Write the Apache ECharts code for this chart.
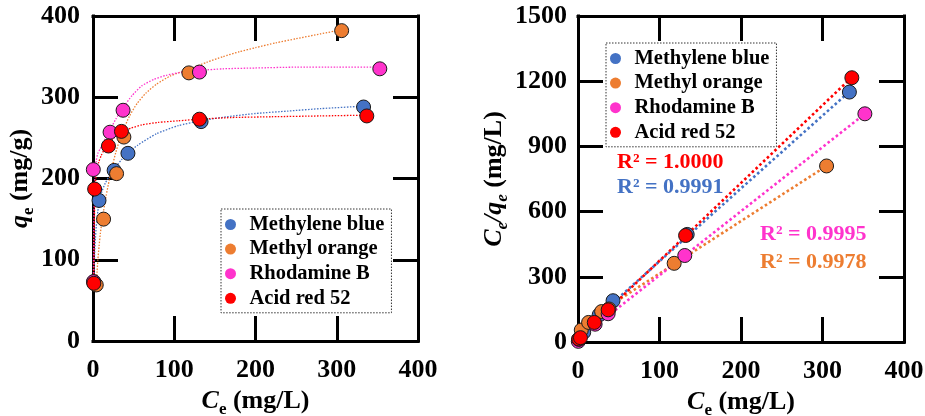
<!DOCTYPE html>
<html><head><meta charset="utf-8">
<script src="https://cdn.jsdelivr.net/npm/echarts@6/dist/echarts.min.js"></script>
<style>html,body{margin:0;padding:0;background:#fff}#c{width:925px;height:416px}</style>
</head><body><div id="c"></div>
<script>
// ---------- data ----------
const names = ['Methylene blue', 'Methyl orange', 'Rhodamine B', 'Acid red 52'];
const colors = ['#4472C4', '#ED7D31', '#FF33CC', '#FF0000'];

// Left panel: Ce (mg/L) vs qe (mg/g)
const ceMB = [1, 7.4, 26, 43, 133, 333];
const qeMB = [73, 173, 210, 231, 270, 288];
const ceMO = [4, 13, 29, 38, 118, 306];
const qeMO = [69, 150, 206, 251, 330, 382];
const ceRB = [0.6, 0.4, 21, 37, 131, 353];
const qeRB = [73, 211, 257, 284, 331, 335];
const ceAR = [1, 2, 19, 35, 131, 337];
const qeAR = [71, 187, 240, 258, 273, 277];

// Left panel fitted curves
const curveMB = [[1,72],[1.5,92],[2,108],[3,127],[4,141],[6,160],[8,172],[11,184],[15,194],[20,203],[27,213],[35,223],[43,231],[55,241],[78,255],[105,265],[132,271],[165,276],[200,280],[240,283],[280,286],[333,289]];
const curveMO = [[4,69],[5,85],[6,100],[7.5,117],[9,132],[11,147],[13,160],[16,178],[20,198],[24,216],[28,232],[32,245],[37,259],[45,277],[54,292],[65,305],[78,316],[95,326],[119,335],[140,343],[160,350],[180,356],[200,361],[225,367],[250,372],[280,378],[306,383]];
const curveRB = [[0.4,72],[0.7,110],[1,140],[1.5,175],[2.5,206],[4,222],[6,231],[8.5,236],[10.7,240],[15,249],[21,260],[28,273],[37,287],[48,302],[60,314],[75,322],[90,327],[110,331],[131,333],[160,335],[200,336],[250,337],[300,337],[353,337]];
const curveAR = [[1,71],[1.2,100],[1.5,130],[2,165],[2.5,187],[3.5,200],[5,211],[7,220],[10,228],[14,236],[19,243],[26,250],[35,257],[47,262],[60,266],[80,269],[105,271],[131,273],[170,275],[220,276],[280,277],[337,278]];

// Right panel: Ce (mg/L) vs Ce/qe
const ce2MB = [1, 7, 26, 43, 134, 333];
const rMB = [14, 45, 125, 190, 495, 1150];
const ce2MO = [4, 13, 29, 38, 118, 305];
const rMO = [55, 90, 140, 152, 362, 810];
const ce2RB = [0.4, 1, 21, 37, 131, 352];
const rRB = [3, 12, 82, 130, 398, 1050];
const ce2AR = [1, 3, 20, 37, 132, 336];
const rAR = [14, 20, 90, 148, 490, 1216];

// Right panel linear fits (end points)
const lineMB = [[1, 40], [333, 1152]];
const lineMO = [[4, 83], [305, 810]];
const lineRB = [[0.4, 13], [352, 1050]];
const lineAR = [[1, 20], [336, 1218]];

const r2Labels = ['R\u00B2 = 0.9991', 'R\u00B2 = 0.9978', 'R\u00B2 = 0.9995', 'R\u00B2 = 1.0000'];

const xTicks = {min: 0, max: 400, interval: 100};
const qTicks = {min: 0, max: 400, interval: 100};
const rTicks = {min: 0, max: 1500, interval: 300};

// ---------- build ----------
const FONT = '"Liberation Serif", "Times New Roman", serif';
const pair = (xs, ys) => xs.map((x, i) => [x, ys[i]]);
const leftSets = [pair(ceMB, qeMB), pair(ceMO, qeMO), pair(ceRB, qeRB), pair(ceAR, qeAR)];
const leftCurves = [curveMB, curveMO, curveRB, curveAR];
const rightSets = [pair(ce2MB, rMB), pair(ce2MO, rMO), pair(ce2RB, rRB), pair(ce2AR, rAR)];
const rightLines = [lineMB, lineMO, lineRB, lineAR];

const axisLineStyle = {show: true, onZero: false, lineStyle: {color: '#000', width: 3, cap: 'square'}};
const tickStyle = {show: true, inside: true, length: 25, lineStyle: {color: '#000', width: 3}};
const labelStyle = (m) => ({show: true, fontFamily: FONT, fontWeight: 'bold', fontSize: 26, color: '#000', margin: m,
  formatter: (v) => String(v)});
const nameRich = {
  i: {fontFamily: FONT, fontWeight: 'bold', fontStyle: 'italic', fontSize: 26, lineHeight: 28, verticalAlign: 'top', color: '#000'},
  n: {fontFamily: FONT, fontWeight: 'bold', fontSize: 26, lineHeight: 28, verticalAlign: 'top', color: '#000'},
  s: {fontFamily: FONT, fontWeight: 'bold', fontSize: 17, lineHeight: 17, verticalAlign: 'top', padding: [13, 0, 0, 0], color: '#000'},
  si: {fontFamily: FONT, fontWeight: 'bold', fontStyle: 'italic', fontSize: 17, lineHeight: 17, verticalAlign: 'top', padding: [13, 0, 0, 0], color: '#000'}
};

function xAx(grid, pos, named, gap) {
  return Object.assign({
    gridIndex: grid, type: 'value', position: pos, min: xTicks.min, max: xTicks.max, interval: xTicks.interval,
    axisLine: axisLineStyle, axisTick: tickStyle, splitLine: {show: false},
    axisLabel: pos === 'bottom' ? labelStyle(16) : {show: false}
  }, named ? {name: '{i|C}{s|e}{n| (mg/L)}', nameLocation: 'middle', nameGap: gap,
              nameTextStyle: {rich: nameRich}} : {});
}
function yAx(grid, pos, t, m, name, gap) {
  return Object.assign({
    gridIndex: grid, type: 'value', position: pos, min: t.min, max: t.max, interval: t.interval,
    axisLine: axisLineStyle, axisTick: tickStyle, splitLine: {show: false},
    axisLabel: pos === 'left' ? labelStyle(m) : {show: false}
  }, name ? {name: name, nameLocation: 'middle', nameGap: gap, nameRotate: 90,
             nameTextStyle: {rich: nameRich}} : {});
}

const series = [];
leftCurves.forEach((c, i) => series.push({
  name: names[i] + ' fit', type: 'line', xAxisIndex: 0, yAxisIndex: 0, data: c,
  smooth: 0.2, symbol: 'none', silent: true, z: 1,
  lineStyle: {color: colors[i], width: 1.3, type: [1.5, 1.5]}
}));
leftSets.forEach((d, i) => series.push({
  name: names[i], type: 'scatter', xAxisIndex: 0, yAxisIndex: 0, data: d,
  symbol: 'circle', symbolSize: 14, z: 3 + i,
  itemStyle: {color: colors[i], borderColor: '#1a1a1a', borderWidth: 1, opacity: 1}
}));
rightLines.forEach((c, i) => series.push({
  name: names[i] + ' lin', type: 'line', xAxisIndex: 2, yAxisIndex: 2, data: c,
  symbol: 'none', silent: true, z: 1,
  lineStyle: {color: colors[i], width: 2.6, type: [2.6, 2.6]}
}));
rightSets.forEach((d, i) => series.push({
  name: names[i], type: 'scatter', xAxisIndex: 2, yAxisIndex: 2, data: d,
  symbol: 'circle', symbolSize: 14, z: 3 + i,
  itemStyle: {color: colors[i], borderColor: '#1a1a1a', borderWidth: 1, opacity: 1}
}));

function legend(left, top) {
  return {
    data: names, left: left, top: top, orient: 'vertical',
    itemWidth: 16, itemHeight: 11, itemGap: 3.6, icon: 'circle',
    padding: [5, 7, 4, 4], borderColor: '#333', borderWidth: 1, borderType: [1.5, 1.5],
    itemStyle: {borderWidth: 0},
    selectedMode: false,
    textStyle: {fontFamily: FONT, fontWeight: 'bold', fontSize: 20.5, color: '#000', lineHeight: 20, padding: [0, 0, 0, 6]}
  };
}

const r2Style = (c) => ({fill: c, font: 'bold 22px "Liberation Serif", serif'});

const option = {
  animation: false,
  backgroundColor: '#fff',
  grid: [
    {left: 93, top: 16, width: 325, height: 325, outerBoundsMode: 'none', containLabel: false},
    {left: 578, top: 16, width: 326, height: 326, outerBoundsMode: 'none', containLabel: false}
  ],
  xAxis: [xAx(0, 'bottom', true, 40), xAx(0, 'top', false), xAx(1, 'bottom', true, 40), xAx(1, 'top', false)],
  yAxis: [
    yAx(0, 'left', qTicks, 13, '{i|q}{s|e}{n| (mg/g)}', 47),
    yAx(0, 'right', qTicks, 0),
    yAx(1, 'left', rTicks, 11, '{i|C}{si|e}{i|/q}{si|e}{n| (mg/L)}', 53),
    yAx(1, 'right', rTicks, 0)
  ],
  legend: [legend(221, 209), legend(606, 43)],
  graphic: [
    {type: 'text', left: 617, top: 151, style: Object.assign({text: r2Labels[3]}, r2Style(colors[3]))},
    {type: 'text', left: 617, top: 176, style: Object.assign({text: r2Labels[0]}, r2Style(colors[0]))},
    {type: 'text', left: 760, top: 223, style: Object.assign({text: r2Labels[2]}, r2Style(colors[2]))},
    {type: 'text', left: 760, top: 251, style: Object.assign({text: r2Labels[1]}, r2Style(colors[1]))}
  ],
  series: series
};
const chart = echarts.init(document.getElementById('c'), null, {renderer: 'canvas'});
chart.setOption(option);
</script></body></html>
